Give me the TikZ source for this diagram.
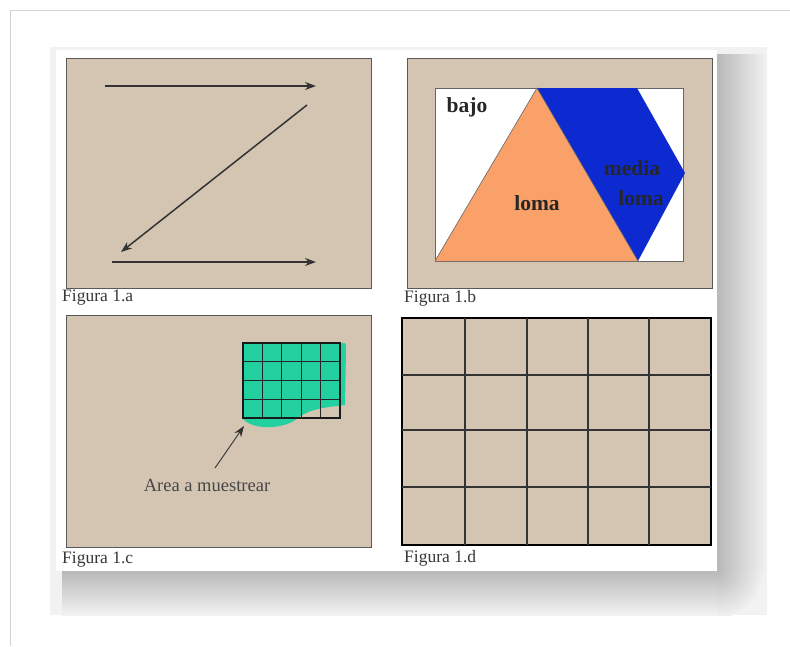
\documentclass[tikz,border=0pt]{standalone}
\usepackage{fontspec}
\setmainfont{Liberation Serif}
\usetikzlibrary{arrows.meta}
\definecolor{arena}{RGB}{212,197,178}
\definecolor{verdeag}{RGB}{34,208,160}
\definecolor{naranja}{RGB}{250,160,105}
\definecolor{azulm}{RGB}{12,42,208}
\tikzset{
  panel/.style={fill=arena, draw=black!65, line width=0.8pt},
  flecha/.style={line width=1.5pt, draw=black!80, -{Stealth[length=11pt,width=8pt]}},
  pie/.style={anchor=west, inner sep=0pt, text=black!78, font=\fontsize{17.5}{17.5}\selectfont},
  zona/.style={inner sep=0pt, text=black!85, font=\fontsize{21.5}{21.5}\selectfont\bfseries},
}
\begin{document}
\begin{tikzpicture}[x=1pt, y=-1pt]
        \useasboundingbox[fill=white] (0,0) rectangle (790,646);
        % marco de la pagina
        \draw[gray!35, line width=0.8pt] (10,10) -- (790,10);
        \draw[gray!35, line width=0.8pt] (10,10) -- (10,646);
        \fill[gray!10] (50,47) rectangle (767,615);
        % sombra de la hoja
        \shade[top color=gray!55, bottom color=gray!10] (62,571) rectangle (717,615);
        \shade[left color=gray!55, right color=gray!10] (717,54) rectangle (767,571);
        \begin{scope}
            \clip (717,571) rectangle (767,615);
            \shade[inner color=gray!55, outer color=gray!10] (717,571) circle (47);
        \end{scope}
        \fill[white] (56,50) rectangle (717,571);

        % Figura 1.a
        \draw[panel] (66,58) rectangle (371,288);
        \coordinate (a1) at (105,86);  \coordinate (a2) at (316,86);
        \coordinate (a3) at (307,105); \coordinate (a4) at (121,252);
        \coordinate (a5) at (112,262); \coordinate (a6) at (316,262);
        \draw[flecha] (a1) -- (a2);
        \draw[flecha] (a3) -- (a4);
        \draw[flecha] (a5) -- (a6);
        \node[pie] (pa) at (62,298) {Figura 1.a};

        % Figura 1.b
        \draw[panel] (407,58) rectangle (712,288);
        \draw[fill=white, draw=black!60, line width=0.6pt] (435,88) rectangle (683,261);
        \fill[naranja] (435,261) -- (537,88) -- (638,261) -- cycle;
        \fill[azulm] (537,88) -- (637,88) -- (685,173) -- (638,261) -- cycle;
        \draw[black!60, line width=0.6pt] (435,261) -- (537,88) -- (638,261);
        \node[zona] (bajo) at (467,107) {bajo};
        \node[zona] (loma) at (537,203) {loma};
        \node[zona] (media) at (632,168) {media};
        \node[zona] (mloma) at (641,198) {loma};
        \node[pie] (pb) at (404,298) {Figura 1.b};

        % Figura 1.c
        \draw[panel] (66,315) rectangle (371,547);
        \fill[verdeag] (243,343) -- (343,343) .. controls (346,343) .. (346,350) -- (345,405)
            .. controls (330,407) and (310,408) .. (298,418)
            .. controls (285,429) and (254,431) .. (243,419) -- cycle;
        \foreach \i in {1,...,4} {
            \draw[black!85, line width=1.2pt] ({243+19.4*\i},343) -- ({243+19.4*\i},418);
        }
        \foreach \j in {1,2,3} {
            \draw[black!85, line width=1.2pt] (243,{343+18.75*\j}) -- (340,{343+18.75*\j});
        }
        \draw[black!90, line width=2pt] (243,343) rectangle (340,418);
        \node[pie, anchor=center, text=black!72, font=\fontsize{18.5}{18.5}\selectfont] (area) at (207,485) {Area a muestrear};
        \coordinate (c1) at (215,468);
        \coordinate (c2) at (244,426);
        \draw[flecha, line width=0.9pt] (c1) -- (c2);
        \node[pie] (pc) at (62,560) {Figura 1.c};

        % Figura 1.d
        \draw[fill=arena, draw=black, line width=2.4pt] (402,318) rectangle (711,545);
        \foreach \x in {465,527,588,649} {
            \draw[black!80, line width=1.2pt] (\x,318) -- (\x,545);
        }
        \foreach \y in {375,430,487} {
            \draw[black!80, line width=1.2pt] (402,\y) -- (711,\y);
        }
        \node[pie] (pd) at (404,558) {Figura 1.d};
    \end{tikzpicture}
\end{document}
